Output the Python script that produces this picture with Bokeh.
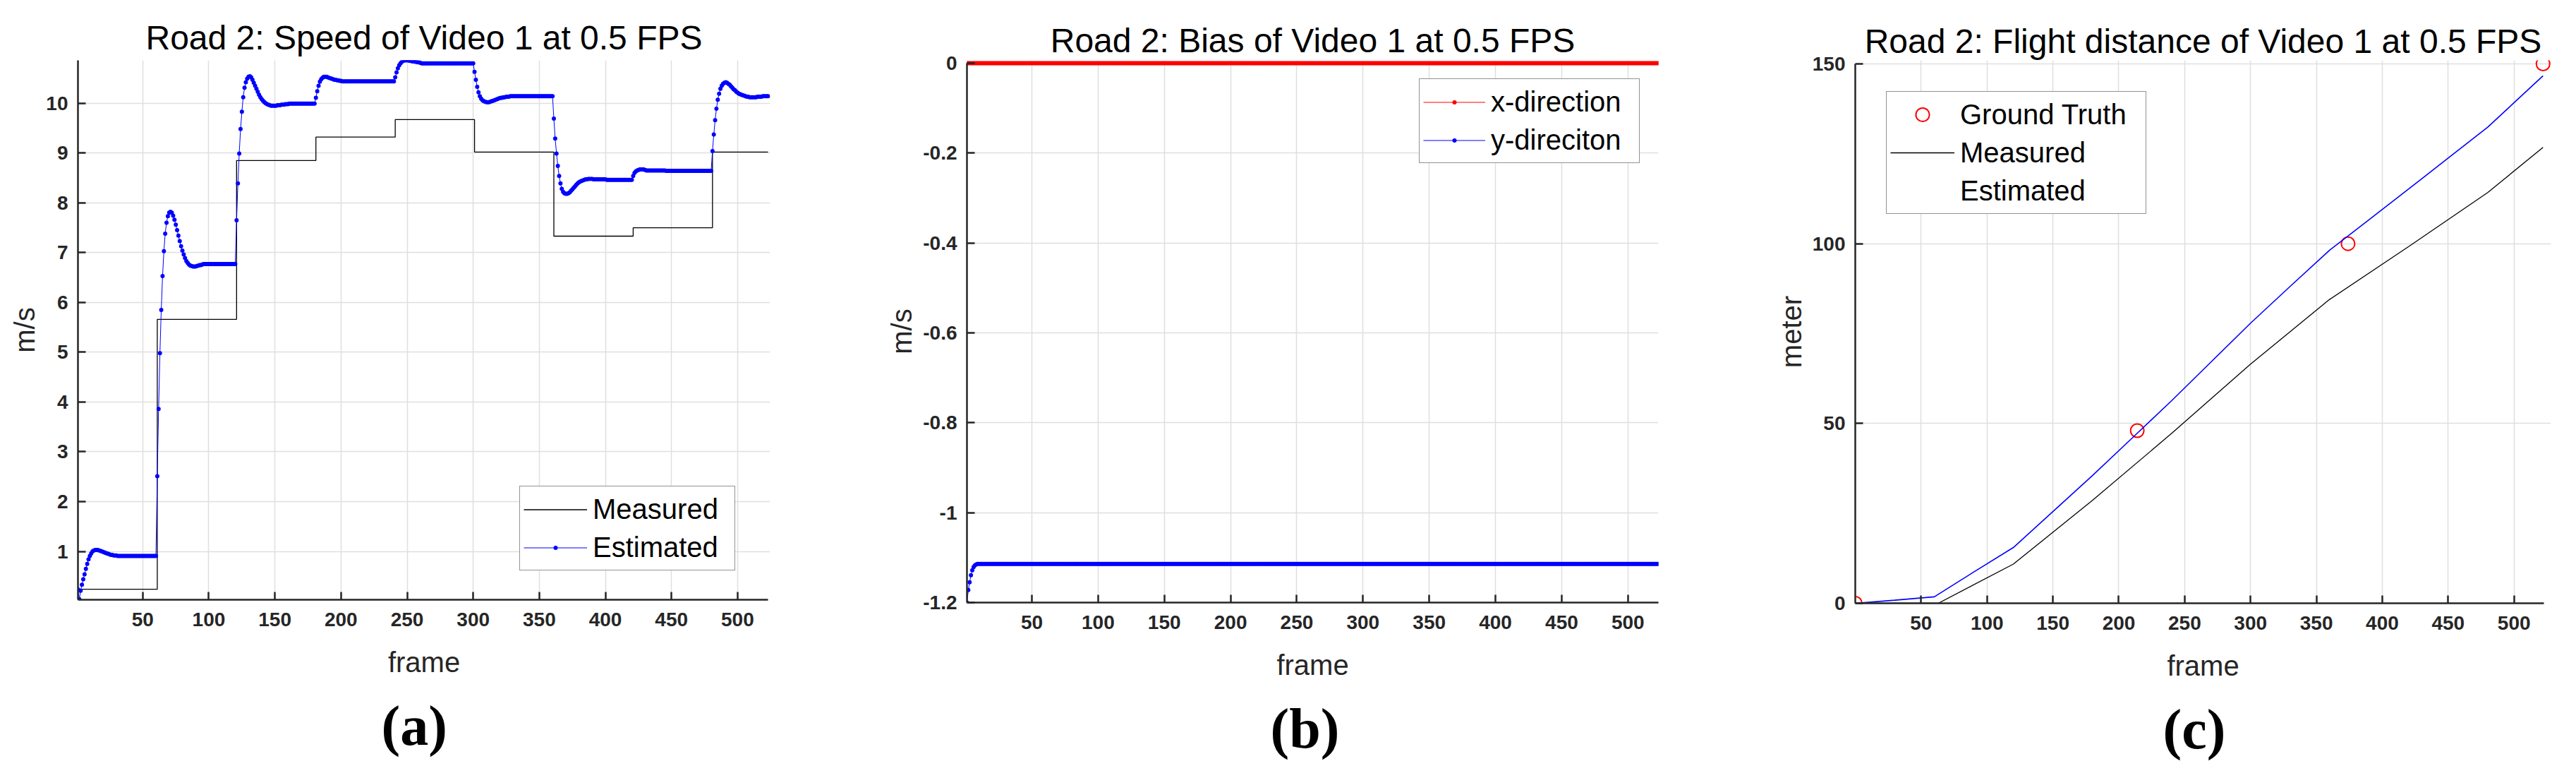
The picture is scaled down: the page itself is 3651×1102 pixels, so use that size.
from bokeh.plotting import figure
from bokeh.models import (FixedTicker, Legend, LegendItem, Title, Range1d,
                          CustomJSTickFormatter)
from bokeh.layouts import row
from bokeh.embed import file_html
from bokeh.resources import INLINE

# ------------------------------------------------------------------ data
frames = list(range(1, 524))

# (a) speed, measured: step levels starting at these frames
meas_a_start = [1, 61, 121, 181, 241, 301, 361, 421, 481, 523]
meas_a_level = [0.24, 5.66, 8.85, 9.32, 9.67, 9.02, 7.33, 7.50, 9.02, 9.02]

# (a) speed, estimated (one value per frame)
est_a_seg1 = [0.24, 0.04, 0.21, 0.33, 0.44, 0.54, 0.65, 0.75, 0.84, 0.91,
              0.96, 1.00, 1.02, 1.03, 1.03, 1.03, 1.02, 1.01, 1.00, 0.99,
              0.98, 0.97, 0.96, 0.95, 0.94, 0.93, 0.93, 0.92, 0.92, 0.92] + [0.91] * 30
est_a_seg2 = [2.51, 3.86, 4.98, 5.85, 6.53, 7.03, 7.38, 7.60, 7.73, 7.80,
              7.82, 7.80, 7.74, 7.66, 7.56, 7.45, 7.34, 7.23, 7.13, 7.04,
              6.96, 6.89, 6.83, 6.79, 6.76, 6.74, 6.73, 6.72, 6.72, 6.72,
              6.73, 6.74, 6.75, 6.75, 6.76] + [6.77] * 25
est_a_seg3 = [7.65, 8.39, 8.99, 9.48, 9.83, 10.12, 10.31, 10.42, 10.49, 10.53,
              10.54, 10.52, 10.47, 10.41, 10.35, 10.29, 10.23, 10.17, 10.12, 10.08,
              10.05, 10.02, 10.00, 9.98, 9.97, 9.96, 9.95, 9.95, 9.95, 9.95,
              9.95, 9.96, 9.96, 9.96, 9.97, 9.97, 9.97, 9.98, 9.98, 9.98] + [9.99] * 20
est_a_seg4 = [10.11, 10.24, 10.35, 10.43, 10.48, 10.51, 10.53, 10.53, 10.53, 10.52,
              10.51, 10.50, 10.49, 10.48, 10.47, 10.47, 10.46, 10.46, 10.45, 10.45] + [10.44] * 40
est_a_seg5 = [10.52, 10.62, 10.70, 10.76, 10.80, 10.83, 10.85, 10.86, 10.86, 10.86,
              10.86, 10.85, 10.85, 10.84, 10.84, 10.83, 10.83, 10.82, 10.82, 10.81] + [10.80] * 40
est_a_seg6 = [10.63, 10.47, 10.33, 10.22, 10.14, 10.09, 10.06, 10.04, 10.03, 10.02,
              10.02, 10.02, 10.03, 10.04, 10.05, 10.06, 10.07, 10.08, 10.09, 10.10,
              10.11, 10.11, 10.12, 10.12, 10.13, 10.13, 10.13, 10.14, 10.14, 10.14] + [10.14] * 30
est_a_seg7 = [9.69, 9.29, 8.99, 8.74, 8.54, 8.39, 8.28, 8.22, 8.19, 8.18,
              8.18, 8.19, 8.21, 8.24, 8.27, 8.30, 8.33, 8.36, 8.39, 8.41,
              8.43, 8.44, 8.45, 8.46, 8.47, 8.47, 8.48, 8.48, 8.48, 8.48] + [8.47] * 10 + [8.46] * 20
est_a_seg8 = [8.54, 8.60, 8.63, 8.65, 8.66, 8.67, 8.67, 8.67, 8.67, 8.66] + [8.65] * 15 + [8.64] * 35
est_a_seg9 = [9.04, 9.37, 9.66, 9.89, 10.07, 10.19, 10.29, 10.35, 10.39, 10.41,
              10.42, 10.41, 10.39, 10.37, 10.34, 10.31, 10.28, 10.26, 10.23, 10.21,
              10.19, 10.18, 10.17, 10.16, 10.15, 10.14, 10.13, 10.13, 10.12, 10.12] + \
             [10.12] * 4 + [10.13] * 4 + [10.14] * 5
est_a = (est_a_seg1 + est_a_seg2 + est_a_seg3 + est_a_seg4 + est_a_seg5 +
         est_a_seg6 + est_a_seg7 + est_a_seg8 + est_a_seg9)

# (b) bias
bias_x = [0.0] * 523
bias_y = [-1.2, -1.172, -1.155, -1.139, -1.128, -1.121, -1.117, -1.115] + [-1.114] * 515

# (c) flight distance
gt_frames = [0, 214, 374, 522]
gt_dist = [0, 48, 100, 150]
meas_c_frames = [0, 63, 120, 180, 240, 300, 360, 420, 480, 522]
meas_c_dist = [0, 0, 10.9, 28.6, 47.2, 66.5, 84.5, 99.2, 114.2, 126.8]
est_c_frames = [0, 30, 60, 90, 120, 150, 180, 210, 240, 270, 300, 330, 360,
                390, 420, 450, 480, 510, 522]
est_c_dist = [0, 0.85, 1.8, 8.7, 15.5, 25.5, 35.5, 45.9, 56.3, 67.1, 77.9,
              88.1, 98.2, 106.7, 115.2, 123.8, 132.4, 142.6, 146.7]

# tick values
x_ticks = [50, 100, 150, 200, 250, 300, 350, 400, 450, 500]
y_ticks_a = [1, 2, 3, 4, 5, 6, 7, 8, 9, 10]
y_ticks_b = [-1.2, -1.0, -0.8, -0.6, -0.4, -0.2, 0.0]
y_ticks_c = [0, 50, 100, 150]

titles = ["Road 2: Speed of Video 1 at 0.5 FPS",
          "Road 2: Bias of Video 1 at 0.5 FPS",
          "Road 2: Flight distance of Video 1 at 0.5 FPS"]
panel_labels = ["(a)", "(b)", "(c)"]

# ------------------------------------------------------------------ style
FONT = "Liberation Sans"
AX = "#262626"
GRID = "#dfdfdf"
TOTAL_H = 1086


def make_fig(xr, yr, xb, yb, fw, fh, bl, br, bt, title, t_standoff,
             panel_lbl, lbl_offset, ylabel, yticks):
    p = figure(x_range=Range1d(*xr), y_range=Range1d(*yr),
               frame_width=fw, frame_height=fh,
               min_border_left=bl, min_border_right=br,
               min_border_top=bt, min_border_bottom=TOTAL_H - bt - fh,
               output_backend="svg", toolbar_location=None,
               background_fill_color="white", border_fill_color="white")
    p.outline_line_color = None
    p.title.text = title
    p.title.align = "center"
    p.title.text_font = FONT
    p.title.text_font_size = "48px"
    p.title.text_font_style = "normal"
    p.title.text_color = "black"
    p.title.standoff = t_standoff

    for ax, ticks, bnd in ((p.xaxis[0], x_ticks, xb), (p.yaxis[0], yticks, yb)):
        ax.ticker = FixedTicker(ticks=ticks)
        ax.bounds = bnd
        ax.axis_line_color = AX
        ax.axis_line_width = 2.5
        ax.major_tick_line_color = AX
        ax.major_tick_line_width = 2.5
        ax.major_tick_in = 11
        ax.major_tick_out = 0
        ax.minor_tick_line_color = None
        ax.major_label_text_font = FONT
        ax.major_label_text_font_size = "28px"
        ax.major_label_text_font_style = "bold"
        ax.major_label_text_color = AX
        ax.axis_label_text_font = FONT
        ax.axis_label_text_font_size = "40px"
        ax.axis_label_text_font_style = "normal"
        ax.axis_label_text_color = AX
    p.xaxis.major_label_standoff = 18
    p.xaxis.axis_label_standoff = 26
    p.yaxis.major_label_standoff = 14
    p.yaxis.axis_label_standoff = 5
    p.xaxis.axis_label = "frame"
    p.yaxis.axis_label = ylabel

    p.xgrid.ticker = FixedTicker(ticks=x_ticks)
    p.ygrid.ticker = FixedTicker(ticks=yticks)
    p.grid.grid_line_color = GRID
    p.grid.grid_line_width = 1.5

    p.add_layout(Title(text=panel_lbl, align="left", offset=lbl_offset,
                       text_font="Liberation Serif", text_font_style="bold",
                       text_font_size="80px", text_color="black",
                       standoff=38), "below")
    return p


def style_legend(lg, gw, gh, lw):
    lg.padding = 5
    lg.spacing = 0
    lg.label_height = 54
    lg.glyph_width = gw
    lg.glyph_height = gh
    lg.label_width = lw
    lg.label_standoff = 8
    lg.label_text_font = FONT
    lg.label_text_font_size = "40px"
    lg.label_text_color = "black"
    lg.border_line_color = AX
    lg.border_line_width = 1.5
    lg.background_fill_color = "white"
    lg.background_fill_alpha = 1.0


# ------------------------------------------------------------------ (a)
pa = make_fig((1, 524.6), (0.03, 10.86), (1, 523), (0.03, 10.86),
              981, 764, 110, 139, 85, titles[0], 12,
              panel_labels[0], 430, "m/s", y_ticks_a)
r_meas_a = pa.step(x=meas_a_start, y=meas_a_level, mode="after",
                   line_color="black", line_width=1.3)
r_est_a_l = pa.line(x=frames, y=est_a, line_color="#0000ff", line_width=1)
r_est_a_s = pa.scatter(x=frames, y=est_a, size=6, fill_color="#0000ff",
                       line_color=None)
lg_a = Legend(items=[LegendItem(label="Measured", renderers=[r_meas_a]),
                     LegendItem(label="Estimated", renderers=[r_est_a_l, r_est_a_s])])
style_legend(lg_a, 90, 15, 196)
lg_a.location = (626, 41)
lg_a.margin = 0
pa.add_layout(lg_a)

# ------------------------------------------------------------------ (b)
pb = make_fig((1, 523), (-1.2, 0.0063), (1, 523), (-1.2, 0),
              980, 768, 140, 110, 81, titles[1], 4,
              panel_labels[1], 430, "m/s", y_ticks_b)
pb.yaxis[0].formatter = CustomJSTickFormatter(
    code="return (Math.round(tick * 100) / 100).toString();")
r_bx_l = pb.line(x=frames, y=bias_x, line_color="#ff0000", line_width=1)
r_bx_s = pb.scatter(x=frames, y=bias_x, size=6, fill_color="#ff0000", line_color=None)
r_by_l = pb.line(x=frames, y=bias_y, line_color="#0000ff", line_width=1)
r_by_s = pb.scatter(x=frames, y=bias_y, size=6, fill_color="#0000ff", line_color=None)
lg_b = Legend(items=[LegendItem(label="x-direction", renderers=[r_bx_l, r_bx_s]),
                     LegendItem(label="y-direciton", renderers=[r_by_l, r_by_s])])
style_legend(lg_b, 88, 15, 205)
lg_b.location = "top_right"
lg_b.margin = 26
pb.add_layout(lg_b)

# ------------------------------------------------------------------ (c)
pc = make_fig((0, 528), (0, 150.98), (0, 522.5), (0, 150),
              986, 769, 169, 20, 80, titles[2], 2,
              panel_labels[2], 436, "meter", y_ticks_c)
r_gt = pc.scatter(x=gt_frames, y=gt_dist, size=19, marker="circle",
                  fill_color=None, line_color="#ff0000", line_width=2)
r_meas_c = pc.line(x=meas_c_frames, y=meas_c_dist, line_color="black", line_width=1.3)
r_est_c = pc.line(x=est_c_frames, y=est_c_dist, line_color="#0000ff", line_width=1.6)
r_est_c_key = pc.line(x=[], y=[], line_color="black", line_width=1.3)
lg_c = Legend(items=[LegendItem(label="Ground Truth", renderers=[r_gt]),
                     LegendItem(label="Measured", renderers=[r_meas_c]),
                     LegendItem(label="Estimated", renderers=[r_est_c_key])])
style_legend(lg_c, 91, 48, 258)
lg_c.location = "top_left"
lg_c.margin = 44
pc.add_layout(lg_c)

layout = row(pa, pb, pc, spacing=0)
open("out.html", "w").write(file_html(layout, INLINE, title="Road 2 Video 1"))
